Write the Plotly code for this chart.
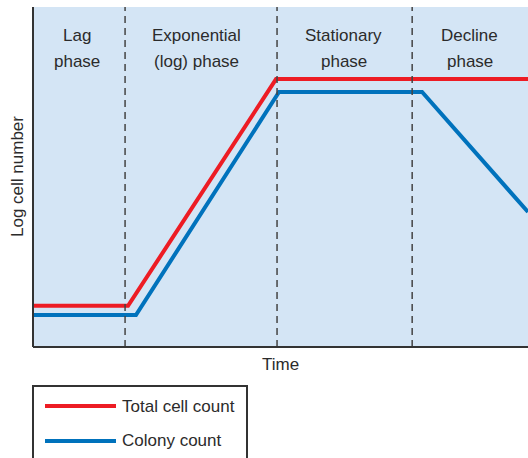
import plotly.graph_objects as go

# Data (arbitrary time / log-count units)
total_x = [0, 1.92, 4.91, 10]
total_y = [1.21, 1.21, 7.88, 7.88]
colony_x = [0, 2.08, 4.97, 7.86, 10]
colony_y = [0.94, 0.94, 7.5, 7.5, 3.97]
phase_bounds = [1.86, 4.93, 7.66]
phase_labels = ["Lag<br>phase", "Exponential<br>(log) phase", "Stationary<br>phase", "Decline<br>phase"]
phase_centers = [0.89, 3.31, 6.28, 8.82]
legend_labels = ["Total cell count", "Colony count"]

RED = "#ed1c24"
BLUE = "#0072bc"
BG = "#d4e5f5"
TXT = "#2b2b2b"
FONT = "Liberation Sans, Arial, sans-serif"

fig = go.Figure()
fig.add_trace(go.Scatter(x=total_x, y=total_y, mode="lines",
                         line=dict(color=RED, width=4),
                         showlegend=False, hoverinfo="skip"))
fig.add_trace(go.Scatter(x=colony_x, y=colony_y, mode="lines",
                         line=dict(color=BLUE, width=4),
                         showlegend=False, hoverinfo="skip"))

shapes = []
for b in phase_bounds:
    shapes.append(dict(type="line", xref="x", yref="paper", x0=b, x1=b, y0=0, y1=1,
                       line=dict(color="#444444", width=1.5, dash="7px,5px"), layer="above"))
# axes lines
shapes.append(dict(type="line", xref="paper", yref="paper", x0=0, x1=0, y0=0, y1=1,
                   line=dict(color="#333333", width=2)))
shapes.append(dict(type="line", xref="paper", yref="paper", x0=0, x1=1, y0=0, y1=0,
                   line=dict(color="#333333", width=2)))

# legend box (pixel -> paper conversion)
def px_x(p):
    return (p - 33) / 495.0

def px_y(p):
    return (347 - p) / 340.0

shapes.append(dict(type="rect", xref="paper", yref="paper", x0=px_x(33), x1=px_x(247),
                   y0=px_y(470), y1=px_y(386), line=dict(color="#333333", width=2),
                   fillcolor="white"))
legend_colors = [RED, BLUE]
legend_ys = [406, 441]
annotations = []
for lab, col, ly in zip(legend_labels, legend_colors, legend_ys):
    shapes.append(dict(type="line", xref="paper", yref="paper", x0=px_x(45), x1=px_x(116),
                       y0=px_y(ly), y1=px_y(ly), line=dict(color=col, width=4)))
    annotations.append(dict(xref="paper", yref="paper", x=px_x(120), y=px_y(ly),
                            text=lab, showarrow=False, xanchor="left", yanchor="middle",
                            font=dict(size=17, color=TXT, family=FONT)))

for lab, cx in zip(phase_labels, phase_centers):
    for line_text, ly in zip(lab.split("<br>"), [35, 61]):
        annotations.append(dict(xref="x", yref="paper", x=cx, y=px_y(ly), text=line_text,
                                showarrow=False, xanchor="center", yanchor="middle",
                                font=dict(size=17, color=TXT, family=FONT)))

annotations.append(dict(xref="paper", yref="paper", x=0.5, y=px_y(364), text="Time",
                        showarrow=False, xanchor="center", yanchor="middle",
                        font=dict(size=17, color=TXT, family=FONT)))
annotations.append(dict(xref="paper", yref="paper", x=px_x(17), y=0.5, text="Log cell number",
                        showarrow=False, xanchor="center", yanchor="middle", textangle=-90,
                        font=dict(size=17, color=TXT, family=FONT)))

fig.update_layout(
    width=528, height=458,
    margin=dict(l=33, r=0, t=7, b=111),
    paper_bgcolor="white", plot_bgcolor=BG,
    xaxis=dict(range=[0, 10], showgrid=False, zeroline=False, showticklabels=False,
               ticks="", showline=False, fixedrange=True),
    yaxis=dict(range=[0, 10], showgrid=False, zeroline=False, showticklabels=False,
               ticks="", showline=False, fixedrange=True),
    shapes=shapes, annotations=annotations, showlegend=False,
)

fig.write_html("out.html", config={"displayModeBar": False},
               post_script="document.body.style.margin='0';document.body.style.overflow='hidden';")
